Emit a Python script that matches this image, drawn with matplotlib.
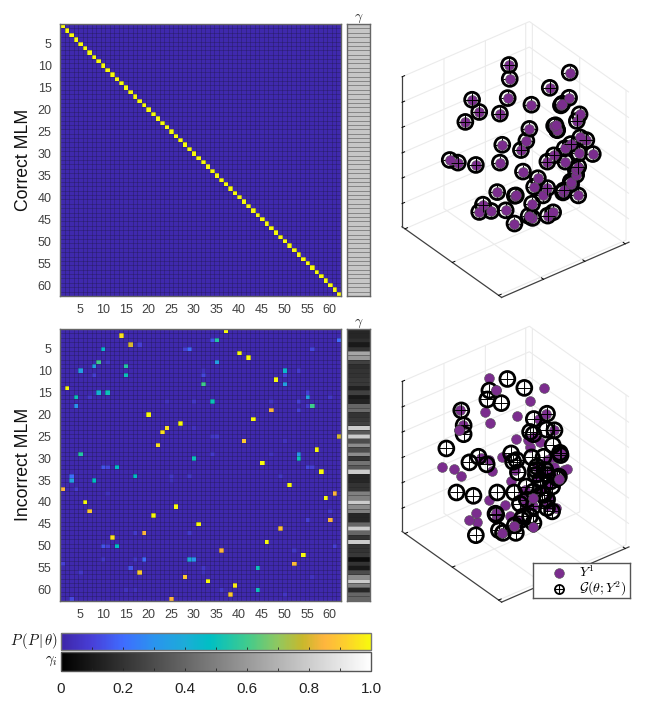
import numpy as np
import matplotlib
matplotlib.use('Agg')
import matplotlib.pyplot as plt
from matplotlib.cm import ScalarMappable
from matplotlib.colors import LinearSegmentedColormap, Normalize

plt.rcParams['font.family'] = ['Liberation Sans', 'DejaVu Sans']
plt.rcParams['mathtext.fontset'] = 'cm'

WIDTH, HEIGHT = 665, 723
N_ITEMS = 62
TEXT_COLOR = '#404040'

# Parula-like colours.
parula_stops = [0.0, 0.1, 0.2, 0.3, 0.4, 0.48, 0.6, 0.7, 0.78, 0.85, 0.92, 1.0]
parula_colors = ['#3e26a8', '#4840d8', '#3f6cff', '#2a94ee', '#1cacd8', '#00bfc4',
                 '#3fcb8e', '#90c860', '#c8b82c', '#feb53e', '#fdd02c', '#f8fa0d']

tick_values = [5, 10, 15, 20, 25, 30, 35, 40, 45, 50, 55, 60]
colorbar_ticks = [0.1 * i for i in range(11)]
colorbar_labels = ['0', '', '0.2', '', '0.4', '', '0.6', '', '0.8', '', '1.0']

background_prob = 0.012

# Non-background cells of the incorrect MLM matrix (1-based row and column).
cell_rows = [1, 2, 3, 3, 3, 4, 4, 5, 5, 5, 5, 6, 7, 8, 8, 8, 9, 9, 10, 10, 10, 10,
             11, 11, 11, 11, 12, 13, 13, 14, 15, 15, 15, 16, 16, 16, 16, 17, 17, 17, 17, 17,
             18, 18, 18, 19, 19, 20, 21, 22, 23, 23, 24, 25, 25, 25, 26, 26, 27, 28,
             29, 29, 29, 29, 30, 30, 31, 32, 32, 32, 32, 32, 33, 34, 34, 34, 34, 34,
             35, 35, 35, 36, 37, 37, 38, 38, 39, 40, 41, 42, 42, 43, 44, 44, 45, 46,
             47, 47, 47, 48, 49, 50, 50, 50, 50, 51, 51, 52, 53, 53, 53, 53, 53,
             54, 54, 55, 55, 55, 56, 56, 56, 57, 57, 58, 59, 60, 60, 60, 60, 61, 61, 62, 62]
cell_cols = [37, 14, 34, 35, 62, 16, 18, 10, 28, 29, 56, 40, 42, 9, 11, 35, 8, 15, 5, 32, 50, 53,
             8, 15, 32, 50, 48, 32, 50, 2, 9, 11, 55, 4, 7, 55, 60, 34, 30, 47, 53, 24,
             4, 56, 55, 47, 53, 20, 43, 27, 24, 30, 23, 34, 35, 62, 41, 50, 22, 57,
             5, 34, 47, 53, 30, 53, 45, 10, 11, 13, 55, 56, 58, 3, 17, 25, 29, 49,
             3, 8, 25, 51, 1, 4, 61, 11, 59, 6, 26, 7, 60, 21, 60, 55, 31, 49,
             19, 17, 29, 12, 46, 10, 11, 13, 61, 36, 52, 54, 10, 17, 19, 29, 30,
             1, 52, 16, 32, 44, 5, 18, 32, 28, 56, 33, 39, 36, 44, 15, 17, 38, 50, 3, 25]
cell_values = [1.0, 0.95, 0.15, 0.55, 0.2, 0.8, 0.1, 0.45, 0.1, 0.2, 0.12, 1.0, 1.0, 0.6, 0.07, 0.35, 0.35, 0.55, 0.35, 0.05, 0.45, 0.08,
               0.1, 0.5, 0.12, 0.1, 1.0, 0.6, 0.35, 1.0, 0.42, 0.5, 0.1, 0.5, 0.07, 0.35, 0.07, 0.5, 0.07, 0.06, 0.1, 0.05,
               0.3, 0.6, 0.08, 0.85, 0.1, 1.0, 1.0, 1.0, 0.95, 0.05, 0.95, 0.07, 0.08, 0.8, 0.9, 0.05, 0.95, 1.0,
               0.55, 0.08, 0.05, 0.3, 0.5, 0.5, 1.0, 0.15, 0.12, 0.48, 0.12, 0.1, 1.0, 0.2, 0.48, 0.07, 0.08, 0.07,
               0.35, 0.48, 0.05, 1.0, 0.85, 0.08, 0.85, 0.05, 1.0, 1.0, 1.0, 0.9, 0.07, 1.0, 0.85, 0.1, 1.0, 0.88,
               0.85, 0.08, 0.08, 0.95, 1.0, 0.15, 0.1, 0.48, 0.1, 0.85, 0.07, 1.0, 0.07, 0.07, 0.2, 0.38, 0.3,
               0.1, 0.87, 0.15, 0.07, 0.5, 0.07, 0.9, 0.05, 0.9, 0.05, 1.0, 0.97, 0.07, 0.5, 0.05, 0.05, 0.9, 0.06, 0.12, 0.85]

gamma_correct = [0.78] * N_ITEMS
gamma_incorrect = [0.15, 0.15, 0.18, 0.1, 0.2, 0.65, 0.6, 0.25, 0.18, 0.2, 0.2, 0.22, 0.22, 0.13, 0.25, 0.1,
                   0.14, 0.4, 0.42, 0.2, 0.22, 0.25, 0.8, 0.35, 0.8, 0.3, 0.55, 0.3, 0.55, 0.2, 0.45, 0.35,
                   0.8, 0.15, 0.15, 0.2, 0.2, 0.5, 0.5, 0.8, 0.55, 0.5, 0.15, 0.15, 0.4, 0.8, 0.4, 0.2,
                   0.8, 0.2, 0.2, 0.22, 0.05, 0.2, 0.1, 0.3, 0.55, 0.8, 0.5, 0.15, 0.4, 0.4]

# Embedding: across = along the screen, height = up the z axis.
correct_across = [-19, -17, 160, 101, -128, -23, 158, 134, 47, -107, -46, -148, 189, 181, 114, 122,
                  41, 32, -39, 16, 191, 209, 163, 145, 187, 228, 113, 94, 147, -194, -170, -117,
                  -46, 185, 179, 22, 66, 164, 55, 94, 142, 185, -54, 1, 81, -96,
                  -107, -72, -29, 49, 111, 95, 39, 50, -3, -2, 123, 140, 163, 178, 138, 118]
correct_height = [512, 470, 489, 443, 407, 412, 413, 390, 392, 370, 365, 340, 363, 343, 328, 317,
                  319, 283, 271, 255, 293, 285, 273, 260, 245, 243, 239, 220, 220, 225, 217, 210,
                  217, 205, 180, 190, 170, 152, 144, 140, 133, 118, 128, 118, 118, 90,
                  68, 71, 73, 93, 67, 57, 56, 50, 33, 117, 315, 127, 160, 195, 395, 330]
# Points whose generated marker sits in front of the purple disc.
correct_g_in_front = [0, 3, 4, 9, 10, 11, 13, 19, 21, 22, 26, 27, 30, 31, 33, 39, 40, 45, 51]

incorrect_y1_across = [-78, -59, 83, 44, -89, 4, -74, -163, -168, 2, 43, 91, 68, 55, 73, 113,
                       108, -40, -102, -216, -182, -160, -68, 152, 115, 127, -12, 64, 98, -77, -32, 52,
                       28, 101, -117, -136, -114, -57, -15, -4, 52, -40, 118, 28, 133, 83,
                       -155, 63, 18, 93, 103, 113, 73, 53, 93, 38, 143, 8, -59, -2, 128, -77]
incorrect_y1_height = [486, 452, 456, 417, 384, 373, 352, 389, 331, 302, 277, 379, 364, 309, 294, 329,
                       249, 249, 244, 217, 212, 192, 207, 212, 217, 181, 175, 219, 169, 119, 104, 123,
                       149, 124, 80, 58, 53, 61, 69, 39, 36, 18, 94, 107, 259, 199,
                       344, 189, 129, 99, 199, 189, 149, 99, 239, 299, 209, 59, 79, 209, 254, 239]
# Purple discs that sit in front of the generated rings.
incorrect_y1_in_front = [1, 8, 25, 31, 39, 40, 41]
incorrect_g_across = [-24, 26, -77, -83, -42, -160, -153, -153, 54, 93, 43, 53, 91, 115, 110, 131,
                      -204, -136, -109, -85, -13, -7, 7, 48, 83, 60, 60, 93, 123, 103, -174, -124,
                      -54, -4, 31, 53, 83, 13, 53, 93, 108, -59, 23, 53, -2, -49,
                      -37, 1, -117, 73, 33, 43, 128, 78, 93, 18, 133, 63, 88, 108, 3, -57]
incorrect_g_height = [484, 457, 449, 422, 411, 389, 344, 317, 363, 379, 324, 317, 331, 329, 284, 261,
                      274, 232, 249, 226, 259, 234, 202, 247, 249, 209, 194, 194, 184, 174, 141, 131,
                      141, 141, 159, 144, 134, 107, 99, 94, 84, 77, 69, 49, 42, 27,
                      19, 19, 12, 179, 119, 69, 189, 139, 119, 59, 254, 219, 209, 159, 239, 74]

# Limits of the 3D box and its tick positions, same units as the embedding.
box_edge = 477
box_height = 453
edge_ticks_x = [14, 241, 463]
edge_ticks_y = [157, 312, 463]
height_ticks = [70, 147, 223, 300, 376, 453]


def px_axes(fig, left, top, right, bottom, **kwargs):
    return fig.add_axes([left / WIDTH, 1 - bottom / HEIGHT, (right - left) / WIDTH, (bottom - top) / HEIGHT], **kwargs)


def style_frame(ax, color='#666666', linewidth=1.0):
    for spine in ax.spines.values():
        spine.set_edgecolor(color)
        spine.set_linewidth(linewidth)


def draw_cell_grid(ax, x_edges, y_edges, color, alpha):
    ax.hlines(y_edges, x_edges[0], x_edges[-1], colors=color, linewidth=0.5, alpha=alpha)
    if len(x_edges) > 2:
        ax.vlines(x_edges, y_edges[0], y_edges[-1], colors=color, linewidth=0.5, alpha=alpha)


def plot_matrix(fig, matrix, cmap, top, bottom, ylabel):
    ax = px_axes(fig, 60, top, 341, bottom)
    edges = np.arange(N_ITEMS + 1) + 0.5
    ax.imshow(matrix, cmap=cmap, vmin=0, vmax=1, extent=(0.5, N_ITEMS + 0.5, N_ITEMS + 0.5, 0.5), aspect='auto', interpolation='nearest')
    draw_cell_grid(ax, edges, edges, '#1c1840', 0.45)
    ax.set_xlim(0.5, N_ITEMS + 0.5)
    ax.set_ylim(N_ITEMS + 0.5, 0.5)
    ax.set_xticks(tick_values)
    ax.set_yticks(tick_values)
    ax.tick_params(length=0, labelsize=9, labelcolor=TEXT_COLOR, pad=6)
    style_frame(ax)
    fig.text(24 / WIDTH, 1 - (top + bottom) / 2 / HEIGHT, ylabel, rotation=90, fontsize=12.7, ha='center', va='center', color='#111111')
    return ax


def plot_gamma(fig, gamma, top, bottom):
    ax = px_axes(fig, 347, top, 370, bottom)
    edges = np.arange(N_ITEMS + 1) + 0.5
    ax.imshow(np.array(gamma).reshape(-1, 1), cmap='gray', vmin=0, vmax=1, extent=(0, 1, N_ITEMS + 0.5, 0.5), aspect='auto', interpolation='nearest')
    draw_cell_grid(ax, [0, 1], edges, '#222222', 0.55)
    ax.set_xlim(0, 1)
    ax.set_ylim(N_ITEMS + 0.5, 0.5)
    ax.set_xticks([])
    ax.set_yticks([])
    style_frame(ax)
    fig.text(358.5 / WIDTH, 1 - (top - 6) / HEIGHT, r'$\gamma$', fontsize=10, ha='center', va='center', color='#222222')


def plot_box(fig, center_y):
    # Axes are a fixed-size window; the box is placed by the window centre and zoom.
    size = 260
    left = 515.5 - 0.5135 * size
    top = center_y - (1 - 0.5135) * size
    ax = px_axes(fig, left, top, left + size, top + size, projection='3d')
    ax.computed_zorder = False
    ax.set_proj_type('ortho')
    ax.view_init(elev=33.7, azim=-38)
    ax.set_box_aspect((1, 1, 1.115), zoom=1.087)
    ax.patch.set_alpha(0)
    ax.set_xlim(0, box_edge)
    ax.set_ylim(0, box_edge)
    ax.set_zlim(0, box_height)
    ax.set_xticks(edge_ticks_x)
    ax.set_yticks(edge_ticks_y)
    ax.set_zticks(height_ticks)
    ax.set_xticklabels([])
    ax.set_yticklabels([])
    ax.set_zticklabels([])
    ax.zaxis.set_ticks_position('lower')
    for axis in (ax.xaxis, ax.yaxis, ax.zaxis):
        axis.set_pane_color((1, 1, 1, 0))
        axis.pane.set_edgecolor('#dddddd')
        axis.line.set_color('#404040')
        axis.line.set_linewidth(0.9)
        axis._axinfo['grid'].update(color='#ebebeb', linewidth=0.8)
        axis._axinfo['tick'].update(inward_factor=0.0, outward_factor=0.25, linewidth={True: 0.7, False: 0.7})
    return ax


def to_box(across, height):
    # Depth cannot be read from the flat picture, so points sit on the plane through
    # the box centre that faces the camera.
    across = np.array(across, dtype=float)
    x = box_edge / 2 + 0.616 * across
    y = box_edge / 2 + 0.788 * across
    return x, y, np.array(height, dtype=float)


def draw_y1(ax, across, height, zorder=2):
    x, y, z = to_box(across, height)
    ax.scatter(x, y, z, s=50, c='#7b2d8e', edgecolors='#555555', linewidths=0.4, depthshade=False, zorder=zorder)


def draw_ring(ax, across, height, zorder=3):
    x, y, z = to_box(across, height)
    ax.scatter(x, y, z, s=115, facecolors='none', edgecolors='black', linewidths=2.0, depthshade=False, zorder=zorder)


def draw_plus(ax, across, height, zorder=3):
    x, y, z = to_box(across, height)
    ax.scatter(x, y, z, s=115, c='black', marker='+', linewidths=0.7, depthshade=False, zorder=zorder)


def plot_colorbar(fig, cmap, top, bottom, label, tick_labels, frame_color):
    cax = px_axes(fig, 61, top, 371, bottom)
    bar = fig.colorbar(ScalarMappable(Normalize(0, 1), cmap), cax=cax, orientation='horizontal')
    bar.set_ticks(colorbar_ticks)
    bar.set_ticklabels(tick_labels)
    cax.tick_params(direction='in', length=2.5, width=0.6, color='#222222', labelsize=11, labelcolor='#222222', pad=8)
    bar.outline.set_edgecolor(frame_color)
    bar.outline.set_linewidth(1.0)
    fig.text(58 / WIDTH, 1 - (top + bottom) / 2 / HEIGHT, label, fontsize=10.5, ha='right', va='center', color='#111111')


def plot_legend(fig):
    # Hand-made key: fig.legend cannot get the two mathtext rows this close together.
    ax = px_axes(fig, 533, 563, 630, 598)
    ax.set_xlim(0, 97)
    ax.set_ylim(35, 0)
    ax.set_xticks([])
    ax.set_yticks([])
    style_frame(ax, '#555555')
    ax.plot([26], [9.5], linestyle='none', marker='o', markersize=7, markerfacecolor='#7b2d8e', markeredgecolor='#555555', markeredgewidth=0.4)
    ax.plot([26], [25.5], linestyle='none', marker='o', markersize=6.5, markerfacecolor='none', markeredgecolor='black', markeredgewidth=1.3)
    ax.plot([26], [25.5], linestyle='none', marker='+', markersize=6.5, markeredgecolor='black', markeredgewidth=0.8)
    ax.text(46, 9.5, r'$Y^1$', fontsize=10, ha='left', va='center')
    ax.text(46, 25.5, r'$\mathcal{G}(\theta;Y^2)$', fontsize=10, ha='left', va='center')


parula = LinearSegmentedColormap.from_list('parula_like', list(zip(parula_stops, parula_colors)))

correct_matrix = np.full((N_ITEMS, N_ITEMS), background_prob)
np.fill_diagonal(correct_matrix, 1.0)
incorrect_matrix = np.full((N_ITEMS, N_ITEMS), background_prob)
for row, col, value in zip(cell_rows, cell_cols, cell_values):
    incorrect_matrix[row - 1, col - 1] = value

fig = plt.figure(figsize=(WIDTH / 100, HEIGHT / 100), dpi=100)

plot_matrix(fig, correct_matrix, parula, 24, 296, 'Correct MLM')
plot_gamma(fig, gamma_correct, 24, 296)
plot_matrix(fig, incorrect_matrix, parula, 329, 600.5, 'Incorrect MLM')
plot_gamma(fig, gamma_incorrect, 329, 600.5)

# Top panel: discs hide most plus signs, a few generated markers lie in front.
ax_top = plot_box(fig, 159.5)
draw_plus(ax_top, correct_across, correct_height, zorder=1)
draw_ring(ax_top, correct_across, correct_height, zorder=2)
draw_y1(ax_top, correct_across, correct_height, zorder=3)
draw_plus(ax_top, [correct_across[i] for i in correct_g_in_front], [correct_height[i] for i in correct_g_in_front], zorder=4)

ax_bottom = plot_box(fig, 464.2)
draw_y1(ax_bottom, incorrect_y1_across, incorrect_y1_height, zorder=2)
draw_ring(ax_bottom, incorrect_g_across, incorrect_g_height, zorder=3)
draw_plus(ax_bottom, incorrect_g_across, incorrect_g_height, zorder=3)
draw_y1(ax_bottom, [incorrect_y1_across[i] for i in incorrect_y1_in_front], [incorrect_y1_height[i] for i in incorrect_y1_in_front], zorder=4)

plot_colorbar(fig, parula, 632.7, 650, r'$P\,(P\,|\,\theta)$', [''] * 11, '#777777')
plot_colorbar(fig, 'gray', 652, 670.5, r'$\gamma_i$', colorbar_labels, '#555555')

plot_legend(fig)

fig.savefig('out.png', dpi=100)
